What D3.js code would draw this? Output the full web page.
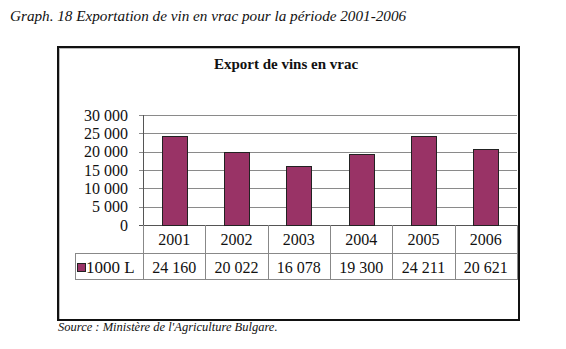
<!DOCTYPE html>
<html>
<head>
<meta charset="utf-8">
<script src="https://cdn.jsdelivr.net/npm/d3@7"></script>
</head>
<body style="margin:0;background:#fff">
<svg id="chart" width="566" height="349"></svg>
<script>
const categories = ["2001", "2002", "2003", "2004", "2005", "2006"];
const values = [24160, 20022, 16078, 19300, 24211, 20621];
const valueLabels = ["24 160", "20 022", "16 078", "19 300", "24 211", "20 621"];
const yTicks = [0, 5000, 10000, 15000, 20000, 25000, 30000];
const yTickLabels = ["0", "5 000", "10 000", "15 000", "20 000", "25 000", "30 000"];
const seriesName = "1000 L";
const chartTitle = "Export de vins en vrac";
const caption = "Graph. 18 Exportation de vin en vrac pour la période 2001-2006";
const source = "Source : Ministère de l'Agriculture Bulgare.";

const svg = d3.select("#chart");
const barColor = "#993366";
const txt = (g) => g.attr("font-family", "Liberation Serif").attr("fill", "#111");

svg.append("text").call(txt).attr("x", 10).attr("y", 21)
  .attr("font-style", "italic").attr("font-size", 15.2)
  .text(caption);

svg.append("rect").attr("x", 59.5).attr("y", 48.5).attr("width", 459).attr("height", 271)
  .attr("fill", "none").attr("stroke", "#bbb").attr("stroke-width", 1);
svg.append("rect").attr("x", 58).attr("y", 47).attr("width", 461).attr("height", 273)
  .attr("fill", "none").attr("stroke", "#111").attr("stroke-width", 2);

svg.append("text").call(txt).attr("x", 286).attr("y", 69)
  .attr("text-anchor", "middle").attr("font-weight", "bold").attr("font-size", 15)
  .text(chartTitle);

const x0 = 143, x1 = 517;
const x = d3.scaleBand().domain(categories).range([x0, x1]).paddingInner(0).paddingOuter(0);
const y = d3.scaleLinear().domain([0, 30000]).range([225, 115]);

svg.append("g").selectAll("line").data(yTicks).join("line")
  .attr("x1", x0 - 4).attr("x2", x1)
  .attr("y1", d => Math.round(y(d)) + 0.5).attr("y2", d => Math.round(y(d)) + 0.5)
  .attr("stroke", d => d === 0 ? "#555" : "#8a8a8a").attr("stroke-width", 1);

svg.append("line").attr("x1", x0 + 0.5).attr("x2", x0 + 0.5).attr("y1", y(30000)).attr("y2", y(0))
  .attr("stroke", "#555");

svg.append("g").selectAll("text").data(yTicks).join("text").call(txt)
  .attr("x", 128).attr("y", d => y(d) + 5.5)
  .attr("text-anchor", "end").attr("font-size", 16)
  .text((d, i) => yTickLabels[i]);

const bw = 25;
svg.append("g").selectAll("rect").data(values).join("rect")
  .attr("x", (d, i) => Math.round(x(categories[i]) + x.bandwidth() / 2 - bw / 2) + 0.5)
  .attr("y", d => Math.round(y(d)) + 0.5)
  .attr("width", bw)
  .attr("height", d => Math.round(y(0)) - Math.round(y(d)))
  .attr("fill", barColor).attr("stroke", "#222").attr("stroke-width", 1);

const rowTop = 225, rowMid = 253, rowBot = 279, legLeft = 75;
const tcol = "#888";
const tg = svg.append("g");
tg.append("line").attr("x1", legLeft).attr("x2", x1).attr("y1", rowMid + 0.5).attr("y2", rowMid + 0.5).attr("stroke", tcol);
tg.append("line").attr("x1", legLeft).attr("x2", x1).attr("y1", rowBot + 0.5).attr("y2", rowBot + 0.5).attr("stroke", tcol);
const vx = categories.map(c => x(c)).concat([x1]);
tg.selectAll("line.v").data(vx).join("line").attr("class", "v")
  .attr("x1", d => Math.round(d) + 0.5).attr("x2", d => Math.round(d) + 0.5)
  .attr("y1", rowTop).attr("y2", rowBot + 1).attr("stroke", tcol);
tg.append("line").attr("x1", legLeft + 0.5).attr("x2", legLeft + 0.5).attr("y1", rowMid).attr("y2", rowBot + 1).attr("stroke", tcol);

tg.selectAll("text.yr").data(categories).join("text").attr("class", "yr").call(txt)
  .attr("x", d => x(d) + x.bandwidth() / 2).attr("y", 245)
  .attr("text-anchor", "middle").attr("font-size", 16).text(d => d);
tg.selectAll("text.val").data(values).join("text").attr("class", "val").call(txt)
  .attr("x", (d, i) => x(categories[i]) + x.bandwidth() / 2).attr("y", 273)
  .attr("text-anchor", "middle").attr("font-size", 16).text((d, i) => valueLabels[i]);
tg.append("rect").attr("x", 77.5).attr("y", 263.5).attr("width", 8).attr("height", 8)
  .attr("fill", barColor).attr("stroke", "#222");
tg.append("text").call(txt).attr("x", 86).attr("y", 273).attr("font-size", 17).text(seriesName);

svg.append("text").call(txt).attr("x", 58).attr("y", 331)
  .attr("font-style", "italic").attr("font-size", 12.5)
  .text(source);
</script>
</body>
</html>
